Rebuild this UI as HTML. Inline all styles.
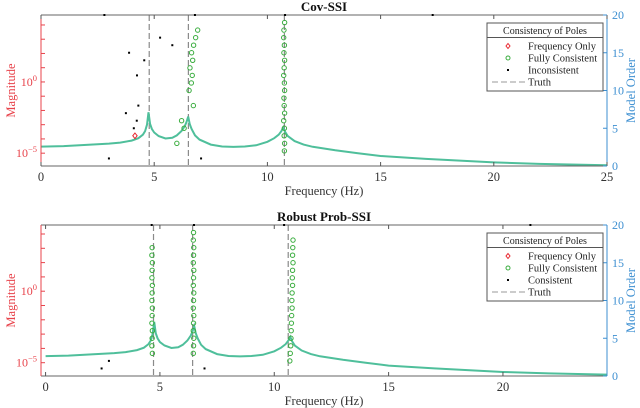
<!DOCTYPE html>
<html><head><meta charset="utf-8">
<style>
html,body{margin:0;padding:0;background:#fff;}
svg{display:block;font-family:"Liberation Serif",serif;}
</style></head>
<body>
<svg id="chart" width="640" height="408" viewBox="0 0 640 408" xmlns="http://www.w3.org/2000/svg"></svg>
<script>
// ---- shared FRF magnitude curve (log10 magnitude) ----
const curveFreq = [0,1,2,3,3.5,4,4.3,4.5,4.6,4.68,4.75,4.82,4.9,5.0,5.2,5.5,5.8,6.0,6.2,6.35,6.43,6.5,6.57,6.65,6.8,7.0,7.5,8,8.5,9,9.5,10,10.3,10.5,10.62,10.7,10.78,10.9,11.2,11.6,12,13,14,15,17,20,22,25];
const curveLogMag = [-4.54,-4.5,-4.42,-4.33,-4.26,-4.12,-3.95,-3.7,-3.45,-3.0,-2.13,-2.95,-3.3,-3.55,-3.8,-3.97,-3.92,-3.75,-3.45,-3.1,-2.8,-2.43,-2.95,-3.3,-3.75,-4.05,-4.4,-4.53,-4.56,-4.53,-4.45,-4.2,-3.95,-3.7,-3.45,-3.19,-3.5,-3.8,-4.15,-4.4,-4.55,-4.8,-5.0,-5.2,-5.4,-5.65,-5.75,-5.85];

// ---- Cov-SSI (top) ----
const covTruth = [4.78, 6.51, 10.75];
const covFreqOnlyF = [4.15];
const covFreqOnlyO = [4];
const covFullF = [6.92,6.83,6.74,6.65,6.7,6.58,6.68,6.64,6.54,6.73,6.21,6.32,6.0,
  10.76,10.73,10.72,10.75,10.73,10.76,10.74,10.72,10.75,10.76,10.73,10.74,10.76,10.72,10.75,10.74,10.76,10.75];
const covFullO = [18,17,16,15,14,13,12,11,10,8,6,5,3,
  19,18,17,16,15,14,13,12,11,10,9,8,7,6,5,4,3,2];
const covIncF = [2.8,6.8,10.78,17.3,3.89,4.56,5.26,5.8,4.24,4.3,3.75,4.23,4.1,3.0,7.07];
const covIncO = [20,20,20,20,15,14,17,16,12,8,7,6,5,1,1];

// ---- Robust Prob-SSI (bottom) ----
const robTruth = [4.72, 6.43, 10.61];
const robFullF = [4.66,4.65,4.67,4.66,4.65,4.67,4.66,4.65,4.67,4.66,4.65,4.67,4.66,4.65,4.67,
  6.47,6.46,6.48,6.47,6.46,6.48,6.47,6.46,6.48,6.47,6.46,6.48,6.47,6.46,6.48,6.47,6.46,
  10.82,10.81,10.8,10.82,10.8,10.79,10.8,10.78,10.77,10.78,10.76,10.75,10.74,10.73,10.72,10.7,10.68];
const robFullO = [17,16,15,14,13,12,11,10,9,8,7,6,5,4,3,
  19,18,17,16,15,14,13,12,11,10,9,8,7,6,5,4,3,
  18,17,16,15,14,13,12,11,10,9,8,7,6,5,4,3,2];
const robConsF = [2.45,2.77,6.95,4.64,6.49,10.43,21.2];
const robConsO = [1,2,1,20,20,20,20];

const xTicksTop = [0,5,10,15,20,25];
const xTicksBot = [0,5,10,15,20];
const orderTicks = [0,5,10,15,20];

const NS = "http://www.w3.org/2000/svg";
const svg = document.getElementById('chart');
function mk(tag, attrs, parent){
  const e = document.createElementNS(NS, tag);
  for (const k in attrs) e.setAttribute(k, attrs[k]);
  (parent||svg).appendChild(e);
  return e;
}
const defs = mk('defs', {});

function panel(cfg){
  const g = mk('g', {});
  
  
  const L=cfg.left, R=cfg.right, T=cfg.top, B=cfg.bottom;
  const xS = f => L + (f - cfg.xmin) / (cfg.xmax - cfg.xmin) * (R - L);
  const yMag = lg => T + (cfg.lmax - lg) / (cfg.lmax - cfg.lmin) * (B - T);
  const yOrd = o => B - o / 20 * (B - T);

  const cp = mk('clipPath', {id:'clip-'+cfg.name}, defs);
  mk('rect', {x:L, y:T, width:R-L, height:B-T}, cp);

  const t = mk('text', {x:(L+R)/2, y:T-4, 'text-anchor':'middle', 'font-size':'13', 'font-weight':'bold', fill:'#111'}, g);
  t.textContent = cfg.title;
  
  

  cfg.truth.forEach(f => {
    const l = mk('line', {x1:xS(f), x2:xS(f), y1:T, y2:B, stroke:'#8a8a8a', 'stroke-width':'1.2', 'stroke-dasharray':'6,3'}, g);
    
    
  });

  let d = '';
  curveFreq.forEach((f,i) => { d += (i?'L':'M') + xS(f).toFixed(1) + ',' + yMag(curveLogMag[i]).toFixed(1); });
  const c = mk('path', {d:d, fill:'none', stroke:'#4fbf9b', 'stroke-width':'2', 'clip-path':'url(#clip-'+cfg.name+')'}, g);
  
  

  mk('line', {x1:L, x2:R, y1:T, y2:T, stroke:'#666', 'stroke-width':'1'}, g);
  mk('line', {x1:L, x2:R, y1:B, y2:B, stroke:'#666', 'stroke-width':'1'}, g);
  const la = mk('line', {x1:L, x2:L, y1:T, y2:B, stroke:'#e8434b', 'stroke-width':'1'}, g);
  
  
  const ra = mk('line', {x1:R, x2:R, y1:T, y2:B, stroke:'#3d8fd1', 'stroke-width':'1'}, g);
  
  

  cfg.xticks.forEach(v => {
    const x = xS(v);
    mk('line', {x1:x, x2:x, y1:B, y2:B-4, stroke:'#555'}, g);
    mk('line', {x1:x, x2:x, y1:T, y2:T+4, stroke:'#555'}, g);
    const tl = mk('text', {x:x, y:B+15, 'text-anchor':'middle', 'font-size':'12.5', fill:'#333'}, g);
    tl.textContent = v;
    
    
  });
  const xl = mk('text', {x:(L+R)/2, y:B+29, 'text-anchor':'middle', 'font-size':'12.5', fill:'#333'}, g);
  xl.textContent = 'Frequency (Hz)';
  
  

  for (let k = Math.ceil(cfg.lmin); k <= Math.floor(cfg.lmax); k++){
    const y = yMag(k);
    mk('line', {x1:L, x2:L+4, y1:y, y2:y, stroke:'#e8434b'}, g);
    if (k === 0 || k === -5){
      const tl = mk('text', {x:L-4, y:y+4, 'text-anchor':'end', 'font-size':'12', fill:'#e8434b'}, g);
      tl.innerHTML = '10<tspan dy="-5" font-size="8.5">' + (k===0?'0':'\u22125') + '</tspan>';
      
      
    }
  }
  const yl = mk('text', {x:0, y:0, 'text-anchor':'middle', 'font-size':'12.5', fill:'#e8434b', transform:'translate(15,'+((T+B)/2)+') rotate(-90)'}, g);
  yl.textContent = 'Magnitude';
  
  

  orderTicks.forEach(o => {
    const y = yOrd(o);
    mk('line', {x1:R-4, x2:R, y1:y, y2:y, stroke:'#3d8fd1'}, g);
    const tl = mk('text', {x:R+5, y:y+4, 'font-size':'12', fill:'#3d8fd1'}, g);
    tl.textContent = o;
    
    
  });
  const yr = mk('text', {x:0, y:0, 'text-anchor':'middle', 'font-size':'12.5', fill:'#3d8fd1', transform:'translate(635,'+((T+B)/2)+') rotate(-90)'}, g);
  yr.textContent = 'Model Order';
  
  

  cfg.fullF.forEach((f,i) => {
    const p = mk('circle', {cx:xS(f), cy:yOrd(cfg.fullO[i]), r:2.2, fill:'none', stroke:'#3aad3f', 'stroke-width':'1'}, g);
    
    
  });
  cfg.foF.forEach((f,i) => {
    const x = xS(f), y = yOrd(cfg.foO[i]);
    const p = mk('polygon', {points:`${x},${y-2.8} ${x+2.2},${y} ${x},${y+2.8} ${x-2.2},${y}`, fill:'none', stroke:'#e8262e', 'stroke-width':'1'}, g);
    
    
  });
  cfg.dotF.forEach((f,i) => {
    const p = mk('rect', {x:xS(f)-1, y:yOrd(cfg.dotO[i])-1, width:2, height:2, fill:'#000'}, g);
    
    
  });

  const lx = 487, lw = 116, ly = cfg.legY;
  const lg = mk('g', {}, g);
  
  
  mk('rect', {x:lx, y:ly, width:lw, height:68, fill:'#fff', stroke:'#555', 'stroke-width':'1'}, lg);
  mk('line', {x1:lx, x2:lx+lw, y1:ly+14.5, y2:ly+14.5, stroke:'#555'}, lg);
  const lt = mk('text', {x:lx+lw/2, y:ly+11, 'text-anchor':'middle', 'font-size':'10', fill:'#222'}, lg);
  lt.textContent = 'Consistency of Poles';
  const ys = [ly+23, ly+35, ly+47, ly+59];
  const mx = 508, tx = 528;
  mk('polygon', {points:`${mx},${ys[0]-2.5} ${mx+2},${ys[0]} ${mx},${ys[0]+2.5} ${mx-2},${ys[0]}`, fill:'none', stroke:'#e8262e'}, lg);
  mk('circle', {cx:mx, cy:ys[1], r:2, fill:'none', stroke:'#3aad3f'}, lg);
  mk('rect', {x:mx-1, y:ys[2]-1, width:2, height:2, fill:'#000'}, lg);
  mk('line', {x1:lx+5, x2:tx-3, y1:ys[3], y2:ys[3], stroke:'#999', 'stroke-dasharray':'6,3'}, lg);
  const labels = ['Frequency Only', 'Fully Consistent', cfg.dotLabel, 'Truth'];
  labels.forEach((s,i) => {
    const e = mk('text', {x:tx, y:ys[i]+3.5, 'font-size':'10.5', fill:'#222'}, lg);
    e.textContent = s;
    
    
  });
}

panel({name:'cov-ssi-panel', title:'Cov-SSI', left:41, right:607, top:15, bottom:166,
  xmin:0, xmax:25, lmin:-5.9, lmax:4.7, xticks:xTicksTop, truth:covTruth,
  fullF:covFullF, fullO:covFullO, foF:covFreqOnlyF, foO:covFreqOnlyO, dotF:covIncF, dotO:covIncO,
  dotLabel:'Inconsistent', legY:23});
panel({name:'robust-prob-ssi-panel', title:'Robust Prob-SSI', left:41, right:607, top:225, bottom:376,
  xmin:-0.2, xmax:24.55, lmin:-5.93, lmax:4.63, xticks:xTicksBot, truth:robTruth,
  fullF:robFullF, fullO:robFullO, foF:[], foO:[], dotF:robConsF, dotO:robConsO,
  dotLabel:'Consistent', legY:233});
</script>
</body></html>
